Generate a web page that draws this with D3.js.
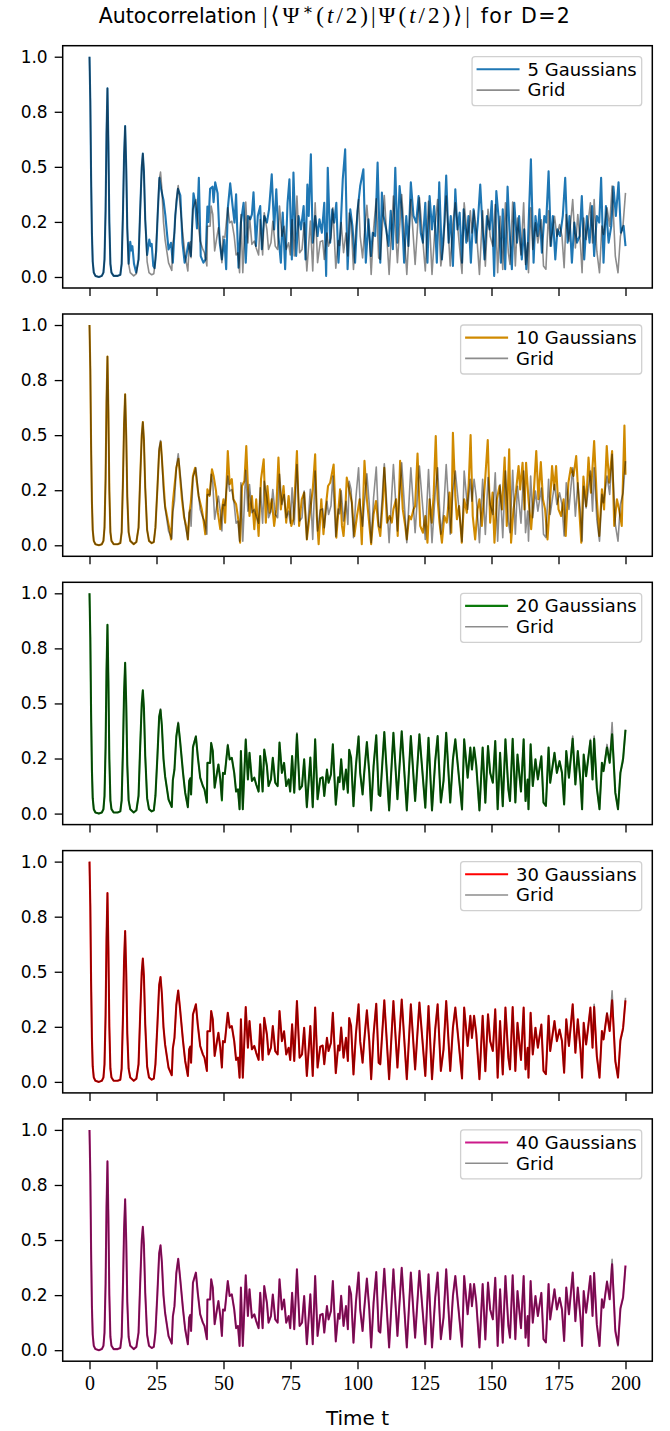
<!DOCTYPE html>
<html>
<head>
<meta charset="utf-8">
<script src="https://cdn.jsdelivr.net/npm/d3@7"></script>
<style>
  body { margin: 0; background: #fff; }
  svg { display: block; }
  .sans { font-family: "DejaVu Sans", sans-serif; }
  .serif { font-family: "Liberation Serif", "DejaVu Serif", serif; }
</style>
</head>
<body>
<svg id="chart" width="670" height="1431"></svg>
<script>
// ---- data ----
var yTicks = [0, 0.25, 0.5, 0.75, 1.0];
var yTickLabels = ['0.0', '0.2', '0.5', '0.8', '1.0'];
var xTicks = [0, 25, 50, 75, 100, 125, 150, 175, 200];
var labels = ['5 Gaussians', '10 Gaussians', '20 Gaussians', '30 Gaussians', '40 Gaussians'];
var colors = ['#1f77b4', '#d08a00', '#0b7a0b', '#ff0000', '#cc1a8a'];

// revival peaks shared by the grid and the larger Gaussian bases (t = 0 .. 25.3)
var earlyShared = [[0,1.0],[0.3,0.8],[0.6,0.45],[0.9,0.2],[1.2,0.07],[1.6,0.02],[2.2,0.005],[3.5,0.0],[4.6,0.005],[5.2,0.02],[5.6,0.08],[6.0,0.3],[6.35,0.65],[6.7,0.857],[7.05,0.6],[7.4,0.25],[7.8,0.06],[8.2,0.02],[9.0,0.005],[10.5,0.005],[11.5,0.01],[12.0,0.06],[12.5,0.3],[12.9,0.55],[13.3,0.685],[13.7,0.5],[14.1,0.22],[14.6,0.06],[15.2,0.02],[16.5,0.005],[17.5,0.015],[18.3,0.08],[18.9,0.3],[19.5,0.5],[19.9,0.56],[20.3,0.48],[20.8,0.26],[21.5,0.07],[22.2,0.02],[23.2,0.01],[24.0,0.015],[24.6,0.08],[25.3,0.25]];

// sample times of the grid curve after t = 25.3 (its turning points)
var tailTimes = [26.0,26.5,27.0,27.6,28.2,29.5,30.7,31.1,31.7,32.4,33.1,33.8,34.9,35.7,
  36.7,37.2,37.6,37.9,38.6,39.7,40.4,41.3,42.3,42.9,43.8,44.0,45.0,45.4,46.0,46.7,47.5,48.1,48.8,49.4,
  49.8,50.5,51.6,52.3,53.1,54.0,54.7,55.4,56.0,56.5,57.2,58.3,59.1,59.7,60.6,61.5,62.2,63.1,63.7,64.6,
  65.2,66.2,66.8,67.7,68.4,69.3,70.2,70.9,71.8,72.6,73.4,74.3,74.9,75.6,76.4,77.4,78.4,79.3,80.1,81.1,
  82.4,83.3,84.2,85.1,86.1,87.0,87.6,88.6,89.2,90.1,90.8,91.9,92.8,93.3,93.9,94.8,95.7,96.4,96.9,97.6,
  98.5,99.4,100.4,101.0,101.9,102.5,103.5,104.4,105.1,106.0,107.0,107.9,108.5,110.0,111.8,113.4,114.9,116.5,118.4,119.9,
  121.5,123.1,125.3,126.5,127.8,129.0,129.9,131.1,132.1,133.1,134.6,135.6,136.5,137.7,139.0,139.8,141.1,142.1,142.7,143.5,
  144.3,145.5,146.7,147.7,148.7,149.5,150.5,151.4,152.3,153.2,154.2,155.2,156.3,156.9,157.9,158.9,159.7,161.0,162.0,162.7,
  163.5,163.8,164.6,165.4,166.4,167.3,168.6,169.4,170.3,171.3,171.9,173.5,174.4,175.4,176.3,177.1,177.9,178.9,180.3,181.3,
  182.2,183.2,183.8,184.4,185.3,185.9,186.9,187.7,188.3,189.3,190.3,191.2,191.8,193.1,194.1,195.0,196.2,197.2,198.1,199.1,200.0];

var gridTail = [0.44,0.476,0.4,0.25,0.17,0.064,0.03,0.152,0.2,0.35,0.415,0.33,0.185,0.095,
  0.027,0.148,0.16,0.087,0.306,0.352,0.26,0.163,0.125,0.11,0.05,0.23,0.23,0.322,0.284,0.118,0.18,0.223,0.155,0.065,
  0.185,0.18,0.314,0.246,0.253,0.185,0.1,0.11,0.019,0.284,0.019,0.34,0.155,0.276,0.148,0.163,0.132,0.1,0.261,0.1,
  0.291,0.215,0.125,0.155,0.253,0.14,0.125,0.322,0.185,0.23,0.125,0.155,0.1,0.261,0.095,0.367,0.11,0.125,0.246,0.027,
  0.254,0.027,0.337,0.065,0.16,0.165,0.08,0.2,0.14,0.178,0.314,0.04,0.165,0.143,0.247,0.11,0.2,0.095,0.29,0.254,
  0.034,0.216,0.352,0.185,0.087,0.185,0.325,0.185,0.012,0.216,0.355,0.087,0.08,0.37,0.012,0.367,0.065,0.374,0.012,0.352,
  0.057,0.36,0.027,0.344,0.012,0.238,0.352,0.05,0.148,0.367,0.05,0.245,0.337,0.185,0.016,0.337,0.163,0.3,0.2,0.3,
  0.22,0.012,0.3,0.049,0.307,0.185,0.14,0.329,0.019,0.276,0.034,0.337,0.11,0.057,0.34,0.05,0.268,0.1,0.337,0.057,
  0.155,0.019,0.314,0.125,0.246,0.155,0.26,0.05,0.035,0.3,0.14,0.276,0.185,0.238,0.185,0.042,0.284,0.163,0.352,0.132,
  0.284,0.148,0.019,0.268,0.17,0.231,0.337,0.155,0.352,0.117,0.019,0.231,0.193,0.314,0.231,0.413,0.095,0.019,0.185,0.238,0.382];

var gauss20Tail = [0.44,0.47,0.4,0.25,0.17,0.064,0.03,0.152,0.2,0.35,0.41,0.33,0.185,0.095,
  0.03,0.148,0.16,0.087,0.3,0.35,0.26,0.163,0.125,0.11,0.05,0.23,0.23,0.32,0.284,0.118,0.18,0.223,0.155,0.06,
  0.185,0.18,0.31,0.246,0.253,0.185,0.1,0.11,0.02,0.284,0.02,0.335,0.155,0.276,0.148,0.163,0.132,0.1,0.261,0.1,
  0.291,0.215,0.125,0.155,0.253,0.14,0.125,0.322,0.185,0.23,0.125,0.155,0.1,0.261,0.095,0.36,0.11,0.125,0.246,0.03,
  0.254,0.03,0.337,0.065,0.16,0.165,0.08,0.2,0.14,0.178,0.314,0.04,0.165,0.143,0.247,0.11,0.2,0.095,0.29,0.254,
  0.034,0.216,0.35,0.185,0.087,0.185,0.325,0.185,0.015,0.216,0.355,0.087,0.08,0.37,0.015,0.367,0.065,0.374,0.015,0.352,
  0.057,0.36,0.027,0.344,0.015,0.238,0.352,0.05,0.148,0.367,0.05,0.245,0.337,0.185,0.02,0.337,0.163,0.3,0.2,0.3,
  0.22,0.015,0.3,0.049,0.307,0.185,0.14,0.329,0.02,0.276,0.034,0.337,0.11,0.057,0.34,0.05,0.268,0.1,0.337,0.057,
  0.155,0.02,0.314,0.125,0.246,0.155,0.26,0.05,0.035,0.3,0.14,0.276,0.185,0.238,0.185,0.042,0.284,0.163,0.34,0.132,
  0.284,0.148,0.02,0.268,0.17,0.231,0.33,0.155,0.34,0.117,0.02,0.231,0.193,0.3,0.231,0.36,0.095,0.02,0.185,0.25,0.38];

var gauss30Tail = [0.44,0.476,0.4,0.25,0.17,0.064,0.03,0.152,0.2,0.35,0.415,0.33,0.185,0.095,
  0.027,0.148,0.16,0.087,0.306,0.352,0.26,0.163,0.125,0.11,0.05,0.23,0.23,0.322,0.284,0.118,0.18,0.223,0.155,0.065,
  0.185,0.18,0.314,0.246,0.253,0.185,0.1,0.11,0.019,0.284,0.019,0.34,0.155,0.276,0.148,0.163,0.132,0.1,0.261,0.1,
  0.291,0.215,0.125,0.155,0.253,0.14,0.125,0.322,0.185,0.23,0.125,0.155,0.1,0.261,0.095,0.367,0.11,0.125,0.246,0.027,
  0.254,0.027,0.337,0.065,0.16,0.165,0.08,0.2,0.14,0.178,0.314,0.04,0.165,0.143,0.247,0.11,0.2,0.095,0.29,0.254,
  0.034,0.216,0.352,0.185,0.087,0.185,0.325,0.185,0.012,0.216,0.355,0.087,0.08,0.37,0.012,0.367,0.065,0.374,0.012,0.352,
  0.057,0.36,0.027,0.344,0.012,0.238,0.352,0.05,0.148,0.367,0.05,0.245,0.337,0.185,0.016,0.337,0.163,0.3,0.2,0.3,
  0.22,0.012,0.3,0.049,0.307,0.185,0.14,0.329,0.019,0.276,0.034,0.337,0.11,0.057,0.34,0.05,0.268,0.1,0.337,0.057,
  0.155,0.019,0.314,0.125,0.246,0.155,0.26,0.05,0.035,0.3,0.14,0.276,0.185,0.238,0.185,0.042,0.284,0.163,0.352,0.132,
  0.284,0.148,0.019,0.268,0.17,0.231,0.337,0.155,0.34,0.117,0.019,0.231,0.193,0.31,0.231,0.37,0.095,0.02,0.19,0.245,0.37];

var gauss40Tail = [0.44,0.476,0.4,0.25,0.17,0.064,0.03,0.152,0.2,0.35,0.415,0.33,0.185,0.095,
  0.027,0.148,0.16,0.087,0.306,0.352,0.26,0.163,0.125,0.11,0.05,0.23,0.23,0.322,0.284,0.118,0.18,0.223,0.155,0.065,
  0.185,0.18,0.314,0.246,0.253,0.185,0.1,0.11,0.019,0.284,0.019,0.34,0.155,0.276,0.148,0.163,0.132,0.1,0.261,0.1,
  0.291,0.215,0.125,0.155,0.253,0.14,0.125,0.322,0.185,0.23,0.125,0.155,0.1,0.261,0.095,0.367,0.11,0.125,0.246,0.027,
  0.254,0.027,0.337,0.065,0.16,0.165,0.08,0.2,0.14,0.178,0.314,0.04,0.165,0.143,0.247,0.11,0.2,0.095,0.29,0.254,
  0.034,0.216,0.352,0.185,0.087,0.185,0.325,0.185,0.012,0.216,0.355,0.087,0.08,0.37,0.012,0.367,0.065,0.374,0.012,0.352,
  0.057,0.36,0.027,0.344,0.012,0.238,0.352,0.05,0.148,0.367,0.05,0.245,0.337,0.185,0.016,0.337,0.163,0.3,0.2,0.3,
  0.22,0.012,0.3,0.049,0.307,0.185,0.14,0.329,0.019,0.276,0.034,0.337,0.11,0.057,0.34,0.05,0.268,0.1,0.337,0.057,
  0.155,0.019,0.314,0.125,0.246,0.155,0.26,0.05,0.035,0.3,0.14,0.276,0.185,0.238,0.185,0.042,0.284,0.163,0.352,0.132,
  0.284,0.148,0.019,0.268,0.17,0.231,0.337,0.155,0.35,0.117,0.019,0.231,0.193,0.31,0.231,0.39,0.085,0.025,0.19,0.24,0.385];

// 5 Gaussians: its own turning points, t = 0 .. 200
var gauss5 = [[0,1.0],[0.3,0.8],[0.6,0.45],[0.9,0.2],[1.2,0.07],[1.6,0.02],[2.2,0.005],[3.5,0.0],[4.6,0.005],[5.2,0.02],[5.6,0.08],[6.0,0.3],[6.35,0.65],[6.7,0.857],[7.05,0.6],[7.4,0.25],[7.8,0.06],[8.2,0.02],[9.0,0.005],[10.5,0.005],[11.5,0.01],[12.0,0.06],[12.5,0.3],[12.9,0.55],[13.3,0.685],[13.7,0.5],[14.1,0.22],[14.6,0.06],[15.2,0.16],[15.6,0.12],[16.0,0.14],[16.6,0.06],[17.4,0.02],[18.3,0.08],[18.9,0.3],[19.5,0.5],[19.9,0.56],[20.3,0.48],[20.8,0.26],[21.5,0.1],[22.3,0.17],[22.8,0.14],[23.2,0.15],[23.8,0.05],[24.3,0.04],[24.9,0.12],[25.5,0.3],[26.1,0.45],[26.7,0.4],[27.6,0.35],[28.3,0.28],[28.9,0.2],[29.5,0.125],[30.4,0.155],[31.1,0.065],[32.0,0.28],[33.0,0.40],[33.9,0.37],[34.7,0.155],[35.5,0.065],[36.1,0.095],[36.9,0.155],[37.8,0.095],[38.8,0.38],[39.4,0.34],[40.1,0.22],[40.8,0.45],[41.5,0.095],[42.5,0.065],[43.3,0.08],[44.0,0.32],[44.4,0.25],[45.0,0.40],[45.9,0.41],[46.3,0.34],[46.9,0.43],[47.8,0.38],[48.6,0.155],[49.4,0.08],[50.3,0.17],[51.0,0.035],[51.6,0.31],[52.5,0.425],
  [53.4,0.322],[54.1,0.247],[54.7,0.375],[55.6,0.042],[56.5,0.247],[57.5,0.337],[58.3,0.065],[59.1,0.277],[60.0,0.262],[60.6,0.284],[61.2,0.385],[62.1,0.141],[62.8,0.277],[63.7,0.322],[64.3,0.126],[65.2,0.277],[66.2,0.247],[67.0,0.307],[68.0,0.466],[68.9,0.216],[69.7,0.398],[70.5,0.186],[71.4,0.065],[72.1,0.292],[73.0,0.035],[73.9,0.337],[74.6,0.443],[75.5,0.08],[76.1,0.474],[77.1,0.095],[78.0,0.277],[78.9,0.216],[79.9,0.322],[80.6,0.08],[81.3,0.42],[81.8,0.277],[82.6,0.557],[83.3,0.156],[84.2,0.277],[85.1,0.186],[85.8,0.262],[86.7,0.201],[87.6,0.337],[88.3,0.005],[88.9,0.496],[89.8,0.156],[90.6,0.307],[91.3,0.247],[92.1,0.337],[92.9,0.065],[93.8,0.247],[94.5,0.443],[95.4,0.58],[96.3,0.035],[97.3,0.307],[98.1,0.232],[99.1,0.065],[100.0,0.3],[101.0,0.413],[102.2,0.489],[103.1,0.065],[104.1,0.262],[105.0,0.095],[105.7,0.201],[106.6,0.186],[107.5,0.519],[108.5,0.065],[109.1,0.383],[109.7,0.277],[110.7,0.216],[111.6,0.141],[112.4,0.3],[113.2,0.126],[114.1,0.496],[114.9,0.156],[115.7,0.413],[116.5,0.307],[117.4,0.065],[118.2,0.277],[119.0,0.141],[119.9,0.43],[120.9,0.277],[121.9,0.247],[122.8,0.367],[123.6,0.201],
  [124.4,0.156],[125.3,0.337],[126.1,0.065],[126.9,0.367],[127.8,0.216],[128.6,0.322],[129.6,0.065],[130.5,0.43],[131.5,0.08],[132.4,0.247],[133.1,0.46],[134.0,0.156],[134.8,0.277],[135.6,0.05],[136.5,0.398],[137.3,0.216],[138.1,0.292],[139.0,0.065],[139.6,0.307],[140.6,0.156],[141.4,0.277],[142.3,0.065],[143.3,0.307],[144.2,0.156],[144.9,0.247],[145.8,0.42],[146.7,0.216],[147.4,0.08],[148.3,0.277],[149.3,0.216],[150.1,0.345],[151.0,0.005],[151.8,0.39],[152.6,0.277],[153.5,0.065],[154.2,0.307],[155.1,0.035],[156.0,0.41],[156.7,0.216],[157.6,0.035],[158.5,0.337],[159.5,0.156],[160.3,0.277],[161.3,0.08],[162.2,0.216],[163.0,0.035],[163.6,0.156],[164.7,0.534],[165.7,0.065],[166.4,0.277],[167.2,0.186],[167.9,0.307],[168.8,0.11],[169.7,0.277],[170.4,0.247],[171.3,0.48],[172.2,0.141],[172.9,0.277],[173.8,0.08],[174.6,0.216],[175.6,0.186],[176.6,0.277],[177.5,0.45],[178.4,0.156],[179.1,0.277],[180.0,0.065],[180.9,0.247],[181.9,0.156],[182.9,0.186],[183.7,0.367],[184.6,0.08],[185.6,0.277],[186.6,0.156],[187.5,0.322],[188.3,0.095],[189.3,0.277],[190.2,0.247],[190.9,0.45],[191.8,0.065],[192.7,0.322],[193.7,0.156],[194.7,0.232],[195.5,0.41],[196.4,0.277],[197.4,0.43],[198.3,0.201],[199.3,0.232],[200.0,0.14]];

// 10 Gaussians: turning points after the shared revivals
var gauss10Tail = [[26.0,0.43],[26.6,0.469],[27.2,0.36],[28.2,0.178],[29.5,0.095],[30.1,0.057],[30.4,0.027],[31.1,0.194],[32.4,0.352],[33.2,0.393],[34.5,0.209],[35.3,0.126],[36.1,0.088],[36.7,0.027],[37.3,0.148],[37.8,0.194],[38.6,0.315],[39.4,0.352],[40.7,0.224],[41.9,0.163],[42.5,0.118],[43.2,0.05],[44.0,0.254],[44.8,0.224],[45.7,0.345],[46.3,0.315],[47.2,0.247],[47.9,0.148],[48.8,0.073],[49.4,0.163],[50.0,0.209],[50.6,0.103],[51.6,0.428],[52.3,0.277],[53.1,0.3],[53.7,0.209],[54.7,0.186],[55.6,0.11],[56.2,0.012],[56.9,0.269],[57.8,0.292],[58.5,0.451],[59.1,0.269],[59.7,0.133],[60.6,0.224],[61.5,0.073],[62.2,0.209],[63.1,0.042],[64.0,0.3],[65.0,0.39],[65.8,0.103],[66.4,0.269],[67.2,0.148],[68.0,0.209],[68.9,0.088],[69.7,0.163],[70.5,0.398],[71.4,0.163],[72.4,0.269],[73.4,0.103],[74.3,0.224],[75.3,0.088],[76.1,0.118],[77.4,0.428],[78.2,0.088],[79.2,0.209],[80.1,0.239],[81.1,0.027],[82.4,0.163],[83.3,0.254],
  [84.2,0.413],[84.8,0.133],[85.5,0.005],[86.5,0.209],[87.3,0.05],[88.2,0.178],[89.0,0.269],[89.8,0.284],[91.1,0.367],[92.1,0.035],[93.0,0.178],[93.5,0.254],[94.2,0.088],[94.8,0.042],[95.4,0.148],[96.0,0.307],[97.0,0.247],[97.9,0.194],[98.8,0.042],[99.8,0.133],[100.8,0.209],[101.6,0.005],[102.6,0.383],[103.5,0.209],[104.4,0.095],[105.1,0.005],[106.0,0.141],[106.9,0.201],[107.8,0.088],[108.5,0.042],[109.5,0.209],[110.0,0.352],[111.0,0.103],[112.0,0.133],[112.8,0.103],[113.4,0.163],[114.4,0.209],[115.0,0.042],[115.9,0.383],[116.9,0.163],[117.8,0.088],[118.4,0.027],[119.3,0.133],[120.0,0.118],[120.9,0.163],[121.5,0.178],[122.4,0.417],[123.4,0.088],[124.4,0.057],[125.3,0.133],[126.1,0.012],[126.9,0.209],[127.7,0.103],[128.4,0.224],[129.2,0.496],[129.9,0.209],[130.6,0.103],[131.5,0.012],[132.4,0.133],[133.3,0.103],[134.3,0.239],[135.0,0.057],[135.6,0.511],[136.5,0.224],[137.1,0.118],[137.9,0.178],[138.9,0.012],[139.8,0.209],[140.8,0.148],[141.5,0.28],
  [142.2,0.5],[143.0,0.133],[143.9,0.027],[144.8,0.163],[145.5,0.209],[146.4,0.088],[147.6,0.292],[148.6,0.478],[149.5,0.103],[150.4,0.239],[151.1,0.012],[152.0,0.209],[153.0,0.269],[153.9,0.163],[154.9,0.398],[155.7,0.088],[156.6,0.436],[157.3,0.012],[158.2,0.163],[159.1,0.239],[160.1,0.36],[160.7,0.254],[161.6,0.375],[162.3,0.163],[162.9,0.375],[163.8,0.209],[164.8,0.073],[165.7,0.224],[166.7,0.428],[167.5,0.209],[168.4,0.378],[169.2,0.209],[170.0,0.163],[170.9,0.027],[171.9,0.209],[172.6,0.36],[173.4,0.254],[174.1,0.36],[175.0,0.163],[176.0,0.133],[176.9,0.209],[177.7,0.042],[178.7,0.284],[179.6,0.352],[180.6,0.315],[181.6,0.405],[182.5,0.209],[183.5,0.012],[184.3,0.312],[185.3,0.178],[186.2,0.398],[187.1,0.239],[188.3,0.473],[189.3,0.209],[190.2,0.042],[191.2,0.254],[192.0,0.163],[193.0,0.451],[193.9,0.284],[195.0,0.428],[195.8,0.088],[196.8,0.209],[197.6,0.163],[198.6,0.088],[199.6,0.544],[200.0,0.32]];

// ---- assemble series ----
function zip(times, vals) { return times.map(function(t, i) { return [t, vals[i]]; }); }
var grid = earlyShared.concat(zip(tailTimes, gridTail));
var series = [
  gauss5,
  earlyShared.concat(gauss10Tail),
  earlyShared.concat(zip(tailTimes, gauss20Tail)),
  earlyShared.concat(zip(tailTimes, gauss30Tail)),
  earlyShared.concat(zip(tailTimes, gauss40Tail))
];

// ---- layout ----
var svg = d3.select('#chart');
var plotLeft = 62.7, plotRight = 652.3, firstTop = 45.7, panelH = 242.3, panelStep = 268.3;
var x = d3.scaleLinear().domain([-10, 210]).range([plotLeft, plotRight]);

// title: text parts in sans, the bra-ket in serif
var title = svg.append('text').attr('x', 335).attr('y', 23).attr('text-anchor', 'middle')
  .style('font-size', '20.5px').attr('fill', '#000');
title.append('tspan').attr('class', 'sans').text('Autocorrelation ');
var m = title.append('tspan').attr('class', 'serif').style('font-size', '23px').style('letter-spacing', '3px');
m.append('tspan').text('|\u27E8\u03A8');
m.append('tspan').attr('dy', -8).style('font-size', '16px').text('\u2217');
m.append('tspan').attr('dy', 8).text('(');
m.append('tspan').style('font-style', 'italic').text('t');
m.append('tspan').text('/2)|\u03A8(');
m.append('tspan').style('font-style', 'italic').text('t');
m.append('tspan').text('/2)\u27E9|');
title.append('tspan').attr('class', 'sans').style('letter-spacing', '1.4px').text(' for D=2');

series.forEach(function(data, i) {
  var top = firstTop + i * panelStep, bottom = top + panelH;
  var y = d3.scaleLinear().domain([-0.05, 1.05]).range([bottom, top]);
  var line = d3.line().x(function(d) { return x(d[0]); }).y(function(d) { return y(d[1]); });
  var g = svg.append('g');

  g.append('clipPath').attr('id', 'clip' + i).append('rect')
    .attr('x', plotLeft).attr('y', top).attr('width', plotRight - plotLeft).attr('height', panelH);

  var lines = g.append('g').attr('clip-path', 'url(#clip' + i + ')');
  lines.append('path').datum(data).attr('d', line)
    .attr('fill', 'none').attr('stroke', colors[i]).attr('stroke-width', 2.1).attr('stroke-linejoin', 'round');
  lines.append('path').datum(grid).attr('d', line)
    .attr('fill', 'none').attr('stroke', '#000').attr('stroke-opacity', 0.45).attr('stroke-width', 1.6).attr('stroke-linejoin', 'round');

  // axes
  var ya = g.append('g').attr('transform', 'translate(' + plotLeft + ',0)')
    .call(d3.axisLeft(y).tickValues(yTicks).tickSize(8).tickPadding(7)
      .tickFormat(function(d, k) { return yTickLabels[k]; }));
  ya.select('.domain').remove();
  ya.selectAll('.tick line').attr('stroke-width', 1.3);
  ya.selectAll('.tick text').attr('class', 'sans').style('font-size', '17px').attr('fill', '#000');

  var xa = g.append('g').attr('transform', 'translate(0,' + bottom + ')')
    .call(d3.axisBottom(x).tickValues(xTicks).tickSize(8).tickPadding(7)
      .tickFormat(i === series.length - 1 ? d3.format('d') : function() { return ''; }));
  xa.select('.domain').remove();
  xa.selectAll('.tick line').attr('stroke-width', 1.3);
  xa.selectAll('.tick text').attr('class', 'serif').style('font-size', '20px').attr('fill', '#000');

  g.append('rect').attr('x', plotLeft).attr('y', top).attr('width', plotRight - plotLeft).attr('height', panelH)
    .attr('fill', 'none').attr('stroke', '#000').attr('stroke-width', 1.5);

  // legend
  var lg = g.append('g');
  var box = lg.append('rect');
  var t1 = lg.append('text').attr('class', 'sans').style('font-size', '18px').text(labels[i]);
  var tw = t1.node().getComputedTextLength();
  var boxRight = plotRight - 10.6, boxTop = top + 11, boxW = 60.5 + tw, boxL = boxRight - boxW;
  box.attr('x', boxL).attr('y', boxTop).attr('width', boxW).attr('height', 49).attr('rx', 3)
    .attr('fill', '#fff').attr('fill-opacity', 0.8).attr('stroke', '#d0d0d0').attr('stroke-width', 1.3);
  t1.attr('x', boxL + 55.5).attr('y', boxTop + 12.6).attr('dy', '0.35em');
  lg.append('text').attr('class', 'sans').style('font-size', '18px').text('Grid')
    .attr('x', boxL + 55.5).attr('y', boxTop + 33.4).attr('dy', '0.35em');
  lg.append('line').attr('x1', boxL + 4.5).attr('x2', boxL + 47.5).attr('y1', boxTop + 12.6).attr('y2', boxTop + 12.6)
    .attr('stroke', colors[i]).attr('stroke-width', 2.1);
  lg.append('line').attr('x1', boxL + 4.5).attr('x2', boxL + 47.5).attr('y1', boxTop + 33.4).attr('y2', boxTop + 33.4)
    .attr('stroke', '#000').attr('stroke-opacity', 0.45).attr('stroke-width', 1.6);
});

svg.append('text').attr('class', 'sans').attr('x', (plotLeft + plotRight) / 2).attr('y', 1425)
  .attr('text-anchor', 'middle').style('font-size', '20px').text('Time t');
</script>
</body>
</html>
